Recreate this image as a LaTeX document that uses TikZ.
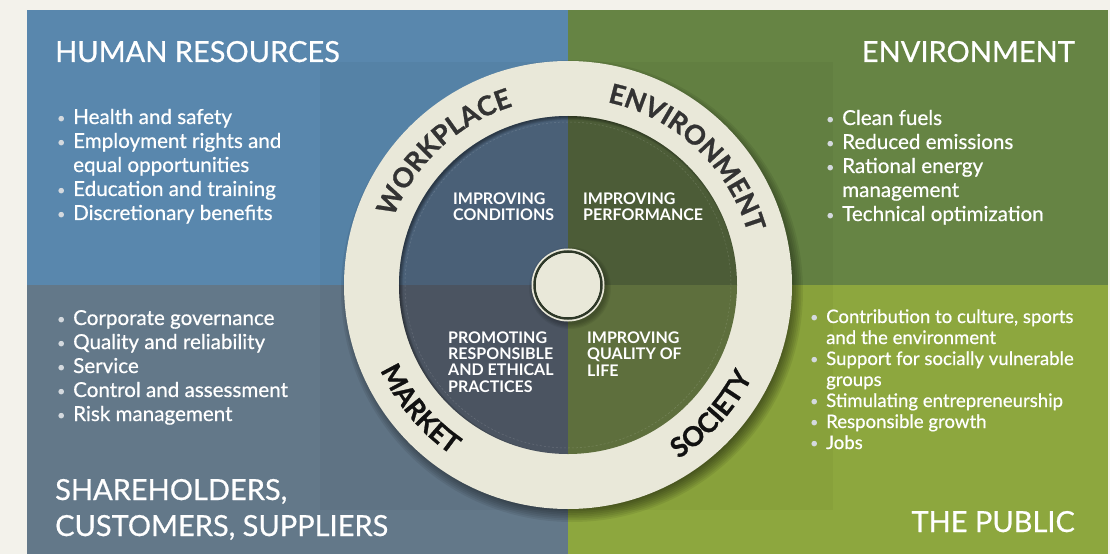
\documentclass[tikz,border=0pt]{standalone}
\usepackage{fontspec}
\setmainfont{Lato}
\newfontfamily\panelfont{Lato}[FakeBold=0.6]
\newfontfamily\ringface{Lato}[FakeBold=1.0]
\usetikzlibrary{decorations.text}

\definecolor{paper}{RGB}{243,242,235}
\definecolor{hrblue}{RGB}{89,135,173}
\definecolor{envgreen}{RGB}{102,132,68}
\definecolor{mkslate}{RGB}{99,120,137}
\definecolor{pubgreen}{RGB}{141,167,62}
\definecolor{inblue}{RGB}{74,96,119}
\definecolor{inolive}{RGB}{76,92,55}
\definecolor{inslate}{RGB}{75,84,97}
\definecolor{inmoss}{RGB}{94,111,61}
\definecolor{ringc}{RGB}{233,232,217}
\definecolor{ringtext}{RGB}{51,51,51}
\definecolor{ringdark}{RGB}{17,17,17}
\definecolor{hubline}{RGB}{46,56,40}
\definecolor{dotc}{RGB}{212,217,222}

\newcommand\itm{\makebox[16pt][l]{\raisebox{1.2pt}{\textcolor{dotc}{\fontsize{14}{14}\selectfont\textbullet}}}}
\newcommand\cnt{\hspace*{16pt}}
\newcommand\blist[1]{\begin{tabular}[t]{@{}l@{}}#1\end{tabular}}
\newcommand\ringfont{\ringface\bfseries\fontsize{27}{27}\selectfont}

\begin{document}
\begin{tikzpicture}[x=1pt,y=1pt,
    title/.style={text=white,inner sep=0,font=\panelfont\fontsize{29}{34}\selectfont},
    lst/.style={text=white,inner sep=0,anchor=base west,font=\panelfont\fontsize{20.6}{24}\selectfont},
    small lst/.style={lst,font=\panelfont\fontsize{18.6}{21}\selectfont},
    inner/.style={text=white,inner sep=0,anchor=base west,align=left,
      font=\bfseries\fontsize{16}{16.3}\selectfont}]
  \useasboundingbox (-568,-269) rectangle (542,285);
  \fill[paper] (-568,-269) rectangle (542,285);
  % the four panels
  \fill[hrblue] (-541,0) rectangle (0,275);
  \fill[envgreen] (0,0) rectangle (540,275);
  \fill[mkslate] (-541,-269) rectangle (0,0);
  \fill[pubgreen] (0,-269) rectangle (540,0);
  \fill[black,opacity=.035] (-248,223) rectangle (265,-225);
  % panel titles
  \node[title,anchor=base west] (hr) at (-513,223) {HUMAN RESOURCES};
  \node[title,anchor=base east] (env) at (507,223) {ENVIRONMENT};
  \node[title,anchor=base west] (share) at (-513,-215) {SHAREHOLDERS,};
  \node[title,anchor=base west] (cust) at (-513,-251) {CUSTOMERS, SUPPLIERS};
  \node[title,anchor=base east] (pub) at (507,-247) {THE PUBLIC};
  % bullet lists
  \node[lst] (hrlist) at (-511,161) {\blist{\itm Health and safety\\
      \itm Employment rights and\\ \cnt equal opportunities\\
      \itm Education and training\\ \itm Discretionary benefits}};
  \node[lst] (envlist) at (258,160) {\blist{\itm Clean fuels\\
      \itm Reduced emissions\\ \itm Rational energy\\ \cnt management\\
      \itm Technical optimization}};
  \node[lst] (mklist) at (-511,-40) {\blist{\itm Corporate governance\\
      \itm Quality and reliability\\ \itm Service\\
      \itm Control and assessment\\ \itm Risk management}};
  \node[small lst] (publist) at (242,-38) {\blist{\itm Contribution to culture, sports\\
      \cnt and the environment\\ \itm Support for socially vulnerable\\
      \cnt groups\\ \itm Stimulating entrepreneurship\\
      \itm Responsible growth\\ \itm Jobs}};
  % ring with its shadow
  \foreach \k in {1,...,10}
    \fill[black,opacity=.07] (4,-6) circle (213+\k*1.8);
  \fill[ringc] (0,0) circle (224);
  % inner disc
  \fill[inblue] (0,0) -- (90:169) arc[start angle=90,end angle=180,radius=169] -- cycle;
  \fill[inolive] (0,0) -- (0:169) arc[start angle=0,end angle=90,radius=169] -- cycle;
  \fill[inslate] (0,0) -- (180:169) arc[start angle=180,end angle=270,radius=169] -- cycle;
  \fill[inmoss] (0,0) -- (270:169) arc[start angle=270,end angle=360,radius=169] -- cycle;
  \begin{scope}
    \clip (0,0) circle (169);
    \foreach \k in {1,...,8}
      \draw[black,opacity=.06,line width=\k pt] (2,-2) circle (171);
  \end{scope}
  \draw[white,opacity=.15,line width=.5pt,dash pattern=on 2pt off 2pt] (0,0) circle (163);
  % ring labels
  \path[decorate,decoration={text along path,text align=center,text color=ringtext,
      text={|\ringfont|WORKPLACE}}]
    (178:187) arc[start angle=178,end angle=88,radius=187];
  \path[decorate,decoration={text along path,text align=center,text color=ringtext,
      text={|\ringfont|ENVIRONMENT}}]
    (92:187) arc[start angle=92,end angle=2,radius=187];
  \path[decorate,decoration={text along path,text align=center,text color=ringdark,
      text={|\ringfont|MARKET}}]
    (180:206) arc[start angle=180,end angle=260,radius=206];
  \path[decorate,decoration={text along path,text align=center,text color=ringdark,
      text={|\ringfont|SOCIETY}}]
    (278:206) arc[start angle=278,end angle=358,radius=206];
  % inner labels (anchored at the last line)
  \node[inner] (cond) at (-115,64) {IMPROVING\\CONDITIONS};
  \node[inner] (perf) at (15,64) {IMPROVING\\PERFORMANCE};
  \node[inner] (prom) at (-120,-107) {PROMOTING\\RESPONSIBLE\\AND ETHICAL\\PRACTICES};
  \node[inner] (qual) at (19,-91) {IMPROVING\\QUALITY OF\\LIFE};
  % hub
  \foreach \k in {1,...,5}
    \fill[black,opacity=.06] (2,-3) circle (35+\k*1.2);
  \fill[ringc] (0,0) circle (36.5);
  \draw[hubline,line width=2.5pt] (0,0) circle (33.5);
  \fill[ringc] (0,0) circle (32);
\end{tikzpicture}
\end{document}
